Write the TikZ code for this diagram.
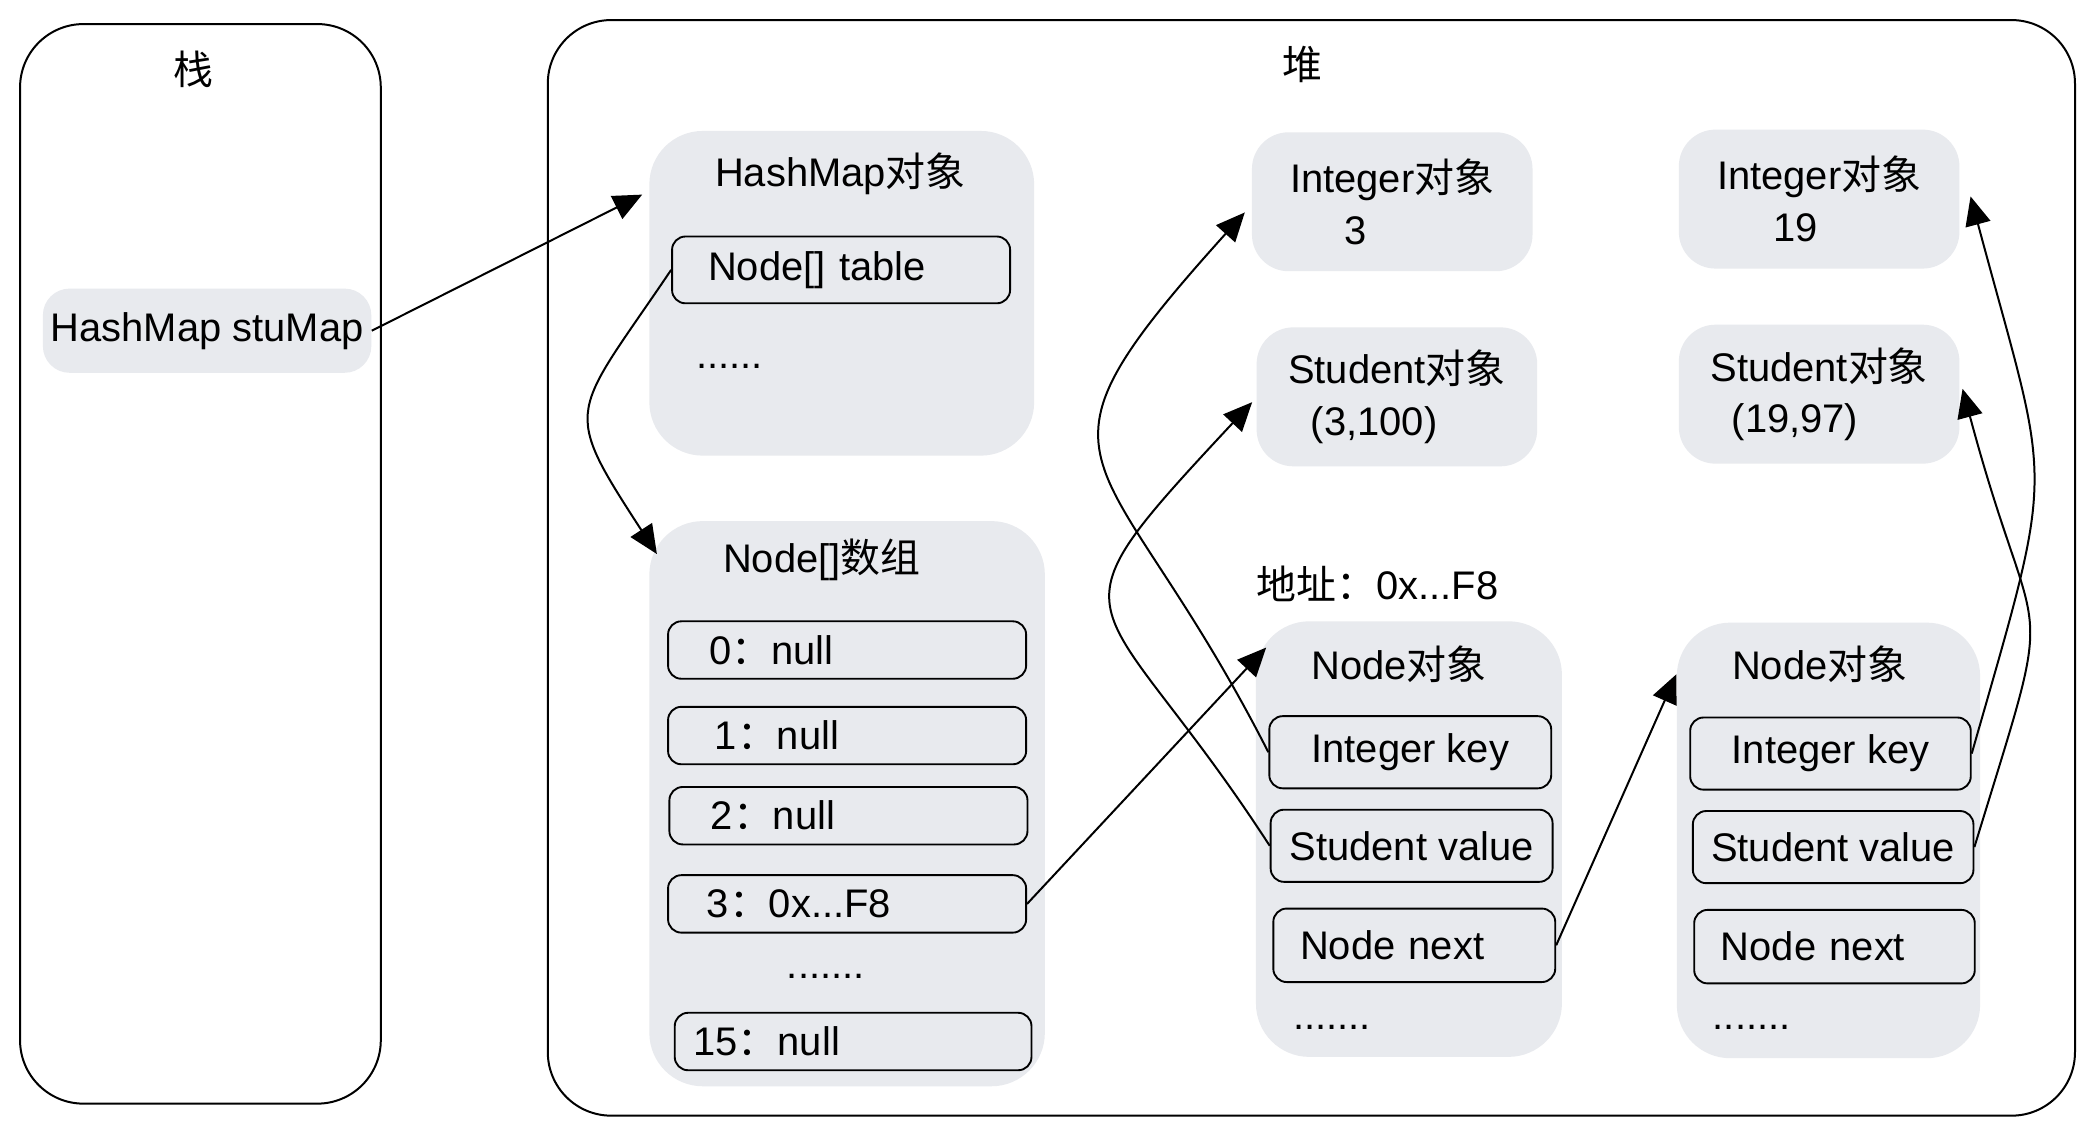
\documentclass[tikz,border=0pt]{standalone}
\usepackage{fontspec}
\setmainfont{Liberation Sans}
\newfontfamily\cjk{Noto Sans CJK SC}
\usepackage{xcolor}
\usepackage{tikz}
\usetikzlibrary{arrows.meta}
\definecolor{objgray}{RGB}{232,234,238}
\newcommand{\zh}[1]{{\cjk #1}}

\begin{document}
\begin{tikzpicture}[font=\fontsize{17}{22}\selectfont,
        area/.style={draw, line width=0.85pt, rounded corners=0.95cm},
        obj/.style={fill=objgray, rounded corners=0.8cm},
        smallobj/.style={fill=objgray, rounded corners=0.55cm, minimum width=4.2cm, minimum height=2.08cm, align=left},
        field/.style={draw, line width=0.8pt, fill=objgray, rounded corners=0.2cm, inner ysep=0pt, align=left},
        cell/.style={field, minimum height=0.86cm},
        ptr/.style={line width=0.85pt, -{Triangle[length=0.43cm,width=0.38cm]}}]
        % Stack and heap of a HashMap<Integer,Student>
        \fill[white] (0,0) rectangle (31.3,-16.96);
        \useasboundingbox (0,0) rectangle (31.3,-16.96);
        \node[area, minimum width=5.4cm, minimum height=16.16cm] (stk) at (3.0,-8.44) {};
        \node (stkt) at (2.9,-1.04) {\zh{栈}};
        \node[fill=objgray, rounded corners=0.4cm, minimum width=4.88cm, minimum height=1.26cm] (stumap) at (3.1,-4.95) {HashMap stuMap};
        \node[area, minimum width=22.86cm, minimum height=16.4cm] (heap) at (19.63,-8.5) {};
        \node (heapt) at (19.5,-0.96) {\zh{堆}};
        
        \node[obj, minimum width=5.76cm, minimum height=4.86cm] (hm) at (12.6,-4.39) {};
        \node (hmt) at (12.58,-2.6) {HashMap\zh{对象}};
        \node[field, minimum height=1.0cm, text width=3.98cm, inner xsep=0.54cm] (tbl) at (12.59,-4.04) {Node[] table};
        \node (hmdots) at (10.92,-5.48) {......};
        
        \node[obj, minimum width=5.92cm, minimum height=8.46cm] (arr) at (12.68,-12.03) {};
        \node (arrt) at (12.3,-8.38) {Node[]\zh{数组}};
        \node[cell, text width=4.12cm, inner xsep=0.62cm] (a0) at (12.68,-9.73) {0\zh{：}null};
        \node[cell, text width=3.96cm, inner xsep=0.7cm] (a1) at (12.68,-11.01) {1\zh{：}null};
        \node[cell, text width=4.12cm, inner xsep=0.62cm] (a2) at (12.7,-12.21) {2\zh{：}null};
        \node[cell, text width=4.2cm, inner xsep=0.58cm] (a3) at (12.68,-13.53) {3\zh{：}0x...F8};
        \node (arrdots) at (12.36,-14.62) {.......};
        \node[cell, text width=4.78cm, inner xsep=0.28cm] (a15) at (12.77,-15.59) {15\zh{：}null};
        
        \node[smallobj] (int3) at (20.84,-3.02) {Integer\zh{对象}\\\hspace*{0.82cm}3};
        \node[smallobj] (stu3) at (20.91,-5.94) {Student\zh{对象}\\\hspace*{0.34cm}(3,100)};
        \node[smallobj] (int19) at (27.23,-2.98) {Integer\zh{对象}\\\hspace*{0.84cm}19};
        \node[smallobj] (stu19) at (27.23,-5.9) {Student\zh{对象}\\\hspace*{0.32cm}(19,97)};
        
        \node (addr) at (20.62,-8.74) {\zh{地址：}0x...F8};
        \node[obj, minimum width=4.58cm, minimum height=6.52cm] (nd1) at (21.09,-12.56) {};
        \node (nd1t) at (20.94,-9.94) {Node\zh{对象}};
        \node[field, minimum width=4.22cm, minimum height=1.08cm] (key1) at (21.11,-11.26) {Integer key};
        \node[field, minimum width=4.22cm, minimum height=1.08cm] (val1) at (21.13,-12.66) {Student value};
        \node[field, minimum height=1.1cm, text width=3.42cm, inner xsep=0.4cm] (next1) at (21.17,-14.15) {Node next};
        \node (nd1dots) at (19.94,-15.38) {.......};
        
        \node[obj, minimum width=4.54cm, minimum height=6.52cm] (nd2) at (27.37,-12.58) {};
        \node (nd2t) at (27.24,-9.94) {Node\zh{对象}};
        \node[field, minimum width=4.2cm, minimum height=1.08cm] (key2) at (27.4,-11.28) {Integer key};
        \node[field, minimum width=4.2cm, minimum height=1.08cm] (val2) at (27.44,-12.68) {Student value};
        \node[field, minimum height=1.1cm, text width=3.4cm, inner xsep=0.4cm] (next2) at (27.46,-14.17) {Node next};
        \node (nd2dots) at (26.22,-15.38) {.......};
        
        \draw[ptr] (stumap.east) -- ([xshift=-0.1cm,yshift=-0.96cm]hm.north west);
        \draw[ptr] (tbl.west) to[out=236, in=123, looseness=1.6] ([xshift=0.12cm,yshift=-0.5cm]arr.north west);
        \draw[ptr] (a3.east) -- ([xshift=0.16cm,yshift=-0.4cm]nd1.north west);
        \draw[ptr] (key1.west) to[out=117, in=228, looseness=1.7] ([xshift=-0.1cm,yshift=-0.16cm]int3.west);
        \draw[ptr] (val1.west) to[out=123, in=227, looseness=1.84] ([xshift=-0.06cm,yshift=-0.08cm]stu3.west);
        \draw[ptr] (next1.east) -- ([yshift=-0.78cm]nd2.north west);
        \draw[ptr] (key2.east) to[out=74, in=285, looseness=1.43] ([xshift=0.16cm,yshift=0.04cm]int19.east);
        \draw[ptr] (val2.east) to[out=73, in=285, looseness=1.63] ([xshift=0.04cm,yshift=0.08cm]stu19.east);
    \end{tikzpicture}
\end{document}
